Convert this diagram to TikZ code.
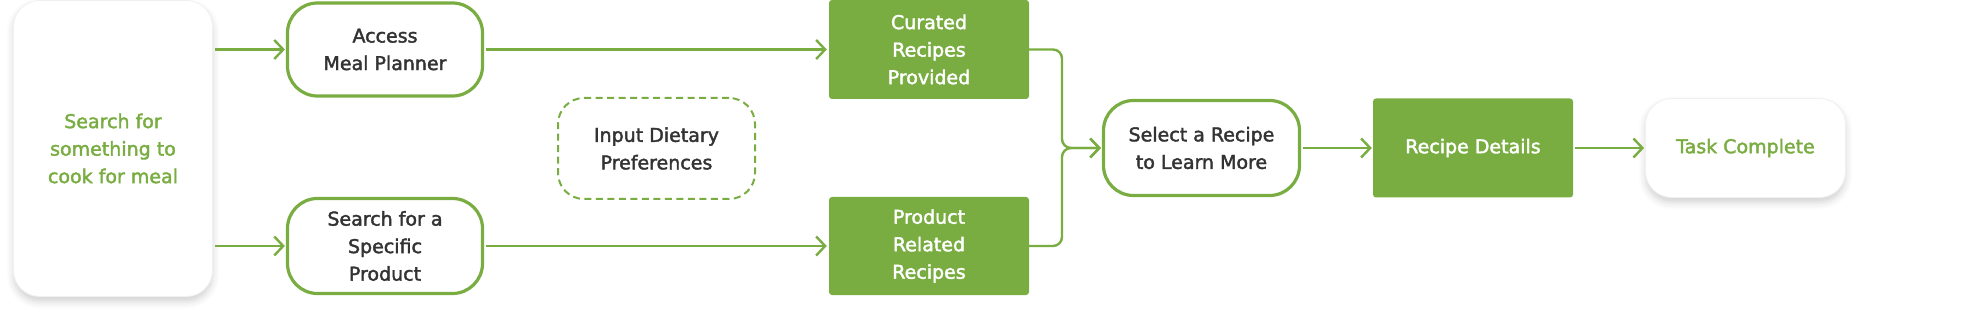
\documentclass[tikz,border=0pt]{standalone}
\usepackage{fontspec}
\setmainfont{DejaVu Sans}[FakeBold=2]
\usetikzlibrary{arrows.meta,shadows.blur}
\definecolor{gr}{HTML}{79AD41}
\definecolor{ink}{HTML}{333333}
\begin{document}
\begin{tikzpicture}[x=1pt,y=-1pt,
  base/.style={rectangle,align=center,font=\fontsize{19}{27.5}\selectfont,inner sep=0pt},
  whitebox/.style={base,fill=white,draw=black!6,line width=0.8pt,rounded corners=26pt,text=gr,
     blur shadow={shadow xshift=0pt,shadow yshift=-5pt,shadow blur radius=7pt,shadow opacity=18}},
  outline/.style={base,draw=gr,line width=3.2pt,fill=white,rounded corners=30pt,text=ink},
  dashbox/.style={base,draw=gr,line width=2pt,dash pattern=on 7pt off 4.5pt,rounded corners=26pt,text=ink},
  solid/.style={base,fill=gr,rounded corners=3pt,text=white},
  conn/.style={draw=gr,line width=2.4pt},
  arr/.style={conn,-{Straight Barb[length=9pt,width=19pt,line width=2.4pt]}}
]
\useasboundingbox (0,0) rectangle (1980,312);
\node[whitebox,minimum width=199pt,minimum height=296pt] (start) at (113,148.5) {Search for\\something to\\cook for meal};
\node[outline,minimum width=195pt,minimum height=93pt] (access) at (385,49.5) {Access\\Meal Planner};
\node[outline,minimum width=195pt,minimum height=95pt] (specific) at (385,246) {Search for a\\Specific\\Product};
\node[dashbox,minimum width=197pt,minimum height=101pt] (diet) at (656.5,148.5) {Input Dietary\\Preferences};
\node[solid,minimum width=200pt,minimum height=99pt] (curated) at (929,49.5) {Curated\\Recipes\\Provided};
\node[solid,minimum width=200pt,minimum height=98pt] (product) at (929,246) {Product\\Related\\Recipes};
\node[outline,minimum width=196pt,minimum height=95pt] (select) at (1201.5,148) {Select a Recipe\\to Learn More};
\node[solid,minimum width=200pt,minimum height=99pt] (details) at (1473,148) {Recipe Details};
\node[whitebox,minimum width=200pt,minimum height=99pt] (task) at (1745.5,148) {Task Complete};
\coordinate (mg) at (1062,148);
\draw[arr,shorten <=2pt,shorten >=1pt] (start.east |- access.west) -- (access.west);
\draw[arr,shorten <=2pt,shorten >=1pt] (start.east |- specific.west) -- (specific.west);
\draw[arr,shorten <=2pt,shorten >=2pt] (access.east) -- (curated.west);
\draw[arr,shorten <=2pt,shorten >=2pt] (specific.east) -- (product.west);
\draw[arr,rounded corners=9pt,shorten >=1pt] (curated.east) -| (mg) -- (select.west);
\draw[arr,rounded corners=9pt,shorten >=1pt] (product.east) -| (mg) -- (select.west);
\draw[arr,shorten <=2pt,shorten >=1pt] (select.east) -- (details.west);
\draw[arr,shorten <=2pt,shorten >=1pt] (details.east) -- (task.west);
\end{tikzpicture}
\end{document}
